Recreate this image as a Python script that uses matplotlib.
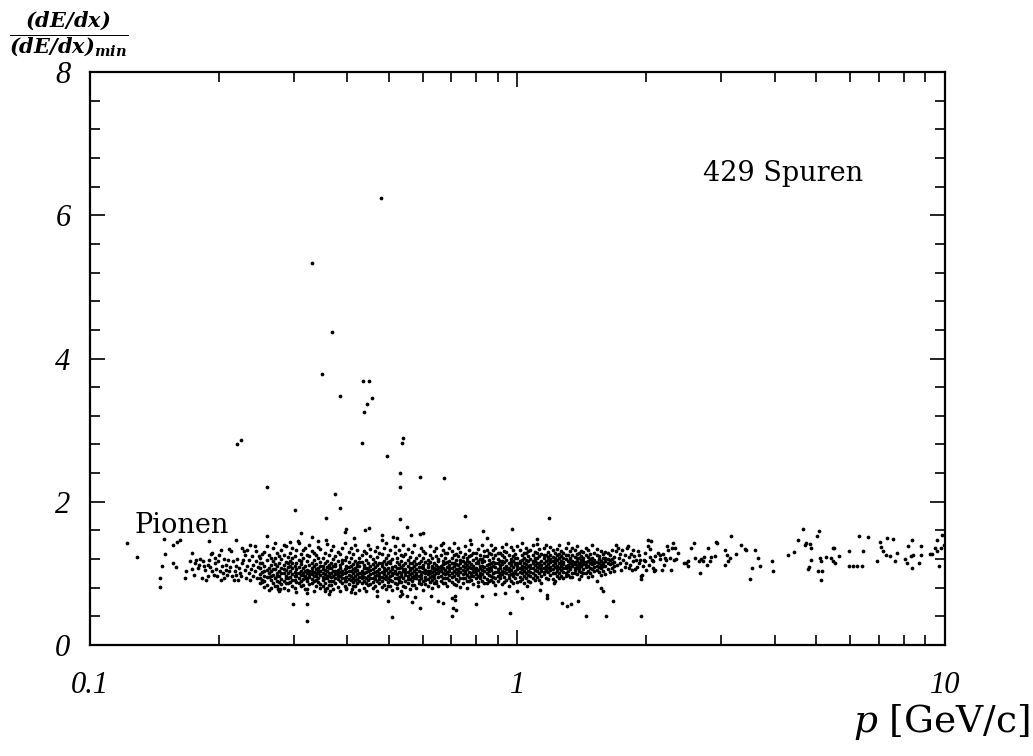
import numpy as np
import matplotlib.pyplot as plt
from matplotlib.font_manager import FontProperties
from matplotlib.ticker import FixedLocator, MultipleLocator, NullFormatter

# dE/dx measurements, normalised to minimum ionisation, versus momentum p [GeV/c]

# isolated tracks at very low momentum
low_p_tracks = [
    (0.122, 1.42), (0.129, 1.23), (0.146, 0.94), (0.146, 0.81), (0.147, 1.11),
    (0.149, 1.48), (0.150, 1.27), (0.156, 1.40), (0.160, 1.44), (0.162, 1.47),
    (0.156, 1.14), (0.159, 1.09),
]

# start of the pion band
band_left = [
    (0.167, 0.93), (0.168, 1.03), (0.171, 1.17), (0.173, 1.28), (0.173, 1.06),
    (0.175, 0.98), (0.176, 1.15), (0.177, 1.19), (0.179, 1.07), (0.180, 1.12),
    (0.181, 1.20), (0.183, 0.93), (0.184, 1.17), (0.185, 1.10), (0.186, 1.05),
    (0.187, 0.91), (0.189, 1.12), (0.189, 0.96), (0.190, 1.19), (0.191, 1.09),
    (0.192, 1.27), (0.193, 1.03), (0.193, 1.29), (0.195, 0.98), (0.196, 1.14),
    (0.196, 1.21), (0.197, 1.06), (0.198, 0.96), (0.199, 1.17), (0.200, 1.25),
    (0.201, 1.03), (0.202, 0.91), (0.203, 1.32), (0.204, 1.10), (0.205, 1.00),
    (0.206, 1.20), (0.206, 0.93), (0.208, 1.05), (0.208, 1.12), (0.209, 0.98),
    (0.210, 1.19), (0.211, 1.03), (0.212, 1.34), (0.213, 1.09), (0.214, 1.31),
    (0.215, 0.96), (0.216, 1.17), (0.217, 0.91), (0.218, 1.04), (0.219, 1.10),
    (0.220, 0.98), (0.221, 1.20), (0.222, 0.91), (0.223, 1.07), (0.224, 1.01),
    (0.226, 0.97), (0.227, 1.14), (0.227, 1.35), (0.228, 1.19), (0.229, 1.31),
    (0.230, 1.05), (0.231, 1.26), (0.232, 0.93), (0.233, 1.10), (0.233, 1.33),
    (0.235, 1.00), (0.236, 1.19), (0.237, 1.40), (0.237, 0.91), (0.238, 1.06),
    (0.239, 1.24), (0.240, 0.96), (0.241, 1.12), (0.243, 1.38), (0.243, 1.03),
    (0.244, 1.17), (0.245, 1.31), (0.246, 0.93), (0.247, 1.09), (0.248, 1.24),
]

# dense part of the band: "p: dE/dx values measured at that momentum"
band_dense = """
0.250: 1.08 0.93 1.21 0.99 1.14 0.86
0.253: 1.02 1.15 0.88 0.91 1.27
0.256: 0.97 1.11 1.30 0.90 1.04 0.81
0.259: 1.05 0.84 1.19 0.95 1.38
0.262: 0.95 1.26 1.07 1.00 0.77
0.265: 1.12 0.91 0.79 1.03 1.22 0.97
0.268: 0.98 1.17 1.35 0.87 1.06
0.271: 1.06 0.94 1.22 0.83 1.13 1.42
0.274: 0.89 1.10 1.01 1.28 0.82 0.96
0.277: 1.14 0.96 1.04 0.75 1.24 0.88
0.280: 0.92 1.20 1.08 0.85 1.33 1.00
0.284: 1.00 1.12 0.90 1.25 0.79 1.06 1.40
0.287: 1.16 0.97 0.86 1.05 1.38 0.93
0.290: 0.93 1.09 1.23 1.01 0.77 1.15 0.87
0.294: 1.18 0.88 1.03 0.95 1.29 1.10
0.297: 1.07 0.83 1.14 0.99 1.36 0.91 1.21
0.301: 0.91 1.24 1.02 1.11 0.80 0.96
0.304: 1.15 0.96 1.06 1.32 0.74 0.88 1.00
0.308: 0.87 1.00 1.19 0.94 1.09 1.42
0.311: 1.04 1.27 0.90 1.13 0.82 0.98 1.17
0.315: 0.98 0.84 1.08 1.21 1.01 0.92 1.33
0.319: 1.10 0.93 1.36 0.97 0.78 1.04
0.322: 0.89 1.05 1.17 0.78 1.00 1.26 0.94
0.326: 1.12 0.95 1.24 1.03 0.85 1.40 0.99
0.330: 0.92 1.07 0.86 1.15 0.99 1.31 1.03
0.334: 1.02 1.19 0.90 1.10 0.76 0.96 1.28
0.338: 0.96 0.82 1.06 1.26 1.13 0.91 1.00
0.342: 1.08 0.94 1.00 1.21 0.88 1.37 1.04
0.346: 1.16 0.98 1.04 0.85 1.34 0.79 1.10
0.350: 0.91 1.11 1.22 1.01 0.95 0.83 1.06
0.354: 1.05 0.87 1.14 0.99 1.28 0.93 0.75
0.358: 0.93 1.09 1.18 0.80 1.03 1.41 0.97
0.362: 1.12 0.97 1.01 1.25 0.89 1.07 0.84
0.367: 0.95 1.07 0.84 1.15 1.32 1.00 0.90
0.371: 1.03 0.90 1.20 0.96 1.11 0.78 1.38
0.375: 1.10 0.86 0.99 1.13 1.24 0.94 1.03
0.380: 0.92 1.05 1.17 0.81 1.01 1.30 0.97
0.384: 1.08 0.96 1.27 0.89 1.12 0.76 1.02
0.389: 0.99 1.14 0.87 1.04 1.35 0.93 1.19
0.394: 1.06 0.93 1.19 1.00 0.83 1.43 0.90
0.398: 0.95 1.11 1.23 0.90 1.02 0.79 1.07
0.403: 1.09 0.85 1.16 0.98 1.30 1.04 0.92
0.408: 0.91 1.04 1.21 0.96 1.10 0.74 1.36
0.412: 1.13 0.88 1.00 1.27 0.94 1.06 0.82
0.417: 0.97 1.07 0.82 1.18 1.03 1.39 0.91
0.422: 1.05 0.92 1.14 0.99 1.33 0.86 1.10
0.427: 0.89 1.10 1.22 1.01 0.95 0.77 1.16
0.432: 1.16 0.86 1.04 0.93 1.26 1.00 0.98
0.437: 1.00 1.12 0.90 1.07 0.80 1.31 0.95
0.443: 0.94 1.19 1.02 1.29 0.87 1.08 0.76
0.448: 1.08 0.97 1.15 0.91 1.03 1.40 0.84
0.453: 0.85 1.05 1.24 0.99 1.11 0.93 1.34
0.459: 1.13 0.93 1.01 1.20 0.88 0.79 1.06
0.464: 0.96 1.09 0.83 1.16 1.31 1.02 0.92
0.470: 1.04 0.90 1.23 0.98 1.12 0.75 1.37
0.475: 0.92 1.15 1.06 0.86 1.00 1.28 0.97
0.481: 1.10 0.95 1.27 1.02 0.89 0.81 1.14
0.486: 0.99 1.18 0.84 1.07 1.35 0.94 1.04
0.492: 1.05 0.92 1.13 0.97 1.21 0.78 1.42
0.498: 0.88 1.08 1.00 1.25 0.94 1.16 0.83
0.504: 1.14 0.96 1.03 0.82 1.17 1.32 0.91
0.510: 1.01 0.90 1.20 1.09 0.98 0.77 1.06
0.516: 0.93 1.11 1.29 1.04 0.87 1.00 1.38
0.522: 1.07 0.99 0.85 1.16 1.22 0.94 0.80
0.528: 0.95 1.13 1.02 0.91 1.32 1.08 0.88
0.535: 1.09 0.88 1.18 1.00 0.97 1.26 0.76
0.541: 1.03 1.24 0.94 1.12 0.83 1.06 1.40
0.547: 0.90 1.06 1.15 0.98 1.27 0.81 1.02
0.554: 1.11 0.96 1.02 0.86 1.19 1.34 0.92
0.560: 0.99 1.08 1.23 0.92 1.05 0.78 1.14
0.567: 1.14 0.89 1.01 1.30 0.95 1.07 0.84
0.574: 0.97 1.10 0.84 1.17 1.04 1.39 0.93
0.580: 1.06 0.93 1.21 1.00 1.13 0.80 0.98
0.587: 0.91 1.15 1.03 0.87 1.26 1.09 0.96
0.594: 1.09 0.98 1.18 0.94 1.36 0.85 1.02
0.601: 1.02 1.12 0.89 1.07 1.22 0.77 1.31
0.608: 0.95 1.05 1.28 1.00 0.85 1.16 0.91
0.616: 1.13 0.92 1.09 1.19 0.99 1.04 0.82
0.623: 1.00 1.16 0.88 1.04 1.25 1.38 0.95
0.630: 1.08 0.96 1.21 0.91 1.11 0.79 1.02
0.638: 0.93 1.03 1.14 0.98 1.31 1.07 0.87
0.645: 1.12 0.90 1.06 1.24 0.86 1.00 1.35
0.653: 1.01 1.17 0.95 1.09 1.20 0.83 1.05
0.661: 0.97 1.11 1.25 1.03 0.90 1.40 1.07
0.669: 1.07 0.93 1.18 1.00 1.33 0.86 1.13
0.677: 1.14 0.99 0.86 1.22 1.05 0.94 1.29
0.685: 0.94 1.09 1.28 1.02 0.82 1.16 1.00
0.693: 1.17 1.04 0.91 1.12 1.36 0.98 1.08
0.701: 1.00 1.21 0.95 1.08 0.88 1.31 1.14
0.709: 1.10 0.97 1.26 1.03 1.15 0.85 1.42
0.718: 0.92 1.13 1.01 1.19 0.84 1.06 1.27
0.726: 1.06 1.24 0.98 0.90 1.12 1.35 1.02
0.735: 1.15 1.02 0.94 1.30 1.08 0.81 1.19
0.744: 0.99 1.18 0.87 1.10 1.23 1.05 0.93
0.752: 1.04 0.93 1.14 1.27 1.01 1.38 1.09
0.761: 1.12 0.98 1.21 0.89 1.06 0.80 1.17
0.770: 0.95 1.09 1.33 1.02 1.16 0.90 1.24
0.780: 1.13 1.00 0.91 1.25 1.07 1.41 0.97
0.789: 1.02 1.19 0.96 1.11 0.85 1.29 1.06
0.798: 1.08 0.94 1.22 1.04 1.29 0.99 1.15
0.808: 0.97 1.14 1.05 0.88 1.18 1.34 0.82
0.817: 1.11 1.01 1.26 0.93 1.07 1.20 0.96
0.827: 1.05 0.90 1.16 1.20 0.99 1.39 1.10
0.837: 1.17 1.03 0.95 1.31 1.09 0.86 1.24
0.847: 0.92 1.12 1.24 1.00 0.86 1.06 1.33
0.857: 1.07 1.19 0.98 1.13 1.03 0.89 1.28
0.867: 1.14 0.96 1.27 1.05 0.91 1.40 1.09
0.877: 1.00 1.10 0.88 1.21 1.16 0.95 1.32
0.888: 1.09 1.25 1.02 0.94 1.35 1.14 0.84
0.898: 0.97 1.15 1.06 1.20 0.89 1.29 1.02
0.909: 1.12 1.01 0.93 1.28 1.08 1.18 0.98
0.920: 1.04 1.18 0.99 1.13 0.85 1.37 1.25
0.931: 1.16 0.95 1.23 1.07 1.02 0.88 1.31
0.942: 0.91 1.11 1.30 1.00 1.19 1.06 1.41
0.953: 1.08 0.98 1.14 1.26 0.94 1.03 0.82
0.964: 1.20 1.05 0.90 1.12 1.37 0.99 1.16
0.976: 1.01 1.17 1.09 0.96 1.24 1.33 0.87
0.987: 1.13 0.93 1.27 1.04 1.15 1.00 1.21
0.999: 0.99 1.10 1.21 0.88 1.06 1.38 1.14
1.011: 1.18 1.02 0.95 1.14 1.32 1.08 0.90
1.023: 1.06 1.25 1.00 0.92 1.11 1.19 1.43
1.035: 1.15 0.97 1.09 1.22 1.03 0.86 1.29
1.047: 1.00 1.13 1.28 0.94 1.19 1.07 1.36
1.060: 1.10 1.04 0.90 1.17 1.24 0.98 1.31
1.072: 0.96 1.20 1.07 1.33 1.12 1.02 0.88
1.085: 1.14 1.01 1.26 0.93 1.08 1.39 1.18
1.098: 1.05 1.18 0.98 1.12 1.22 0.91 1.30
1.111: 1.21 1.09 0.95 1.29 1.03 1.15 1.41
1.125: 1.00 1.15 1.24 1.07 0.91 1.34 1.11
1.138: 1.12 1.27 1.04 1.18 0.97 1.08 0.87
1.152: 1.08 0.99 1.21 1.14 1.35 1.02 1.26
1.165: 1.17 1.03 1.25 0.94 1.10 1.40 1.06
1.179: 1.02 1.13 1.30 1.07 1.19 0.92 1.23
1.193: 1.20 1.09 0.98 1.16 1.26 1.05 1.37
1.208: 1.06 1.23 1.12 0.92 1.01 1.32 1.17
1.222: 1.14 1.00 1.28 1.09 1.18 0.89 1.22
1.237: 1.03 1.19 1.11 0.96 1.34 1.25 1.07
1.251: 1.22 1.08 1.15 1.27 1.00 0.93 1.39
1.266: 1.10 0.97 1.24 1.05 1.17 1.31 1.13
1.281: 1.16 1.29 1.02 1.13 0.93 1.21 1.08
1.297: 1.07 1.20 1.11 1.36 1.01 1.25 0.96
1.312: 1.25 1.04 1.17 0.98 1.12 1.42 1.09
1.328: 1.09 1.22 1.31 1.06 1.14 0.95 1.19
1.344: 1.18 1.01 1.10 1.26 0.95 1.35 1.13
1.360: 1.05 1.16 1.23 1.13 1.33 1.00 1.08
1.376: 1.21 1.08 0.99 1.18 1.27 1.12 1.38
1.392: 1.12 1.28 1.04 1.15 1.07 0.92 1.22
1.409: 1.02 1.19 1.24 0.96 1.10 1.31 1.15
1.426: 1.17 1.06 1.30 1.13 1.21 1.00
1.443: 1.09 1.25 1.01 1.16 1.36 1.12
1.460: 1.23 1.11 1.04 1.32 1.18 0.95
1.477: 1.14 1.00 1.20 1.27 1.08
1.495: 1.06 1.22 1.13 0.97 1.17 1.39
1.513: 1.19 1.09 1.29 1.03 1.14
1.531: 1.11 1.26 1.16 1.05 1.34
1.549: 1.24 1.02 1.14 1.20 1.09
1.567: 1.08 1.18 1.31 1.12 0.98
1.586: 1.15 1.27 1.04 1.21 1.11
1.605: 1.10 1.22 1.17 0.99 1.30
1.624: 1.28 1.06 1.14 1.20
1.644: 1.13 1.25 1.19 1.02
1.663: 1.20 1.08 1.33 1.15
1.683: 1.16 1.23 1.11 1.04
"""

# thinning out towards high momentum
band_right = [
    (1.70, 1.40), (1.70, 1.31), (1.72, 1.35), (1.73, 1.21), (1.74, 1.14),
    (1.71, 1.12), (1.74, 1.27), (1.75, 1.05), (1.76, 1.33), (1.77, 1.19),
    (1.78, 1.09), (1.78, 1.26), (1.79, 1.15), (1.80, 1.35), (1.81, 1.38),
    (1.82, 1.23), (1.82, 1.07), (1.83, 1.12), (1.84, 1.27), (1.85, 1.05),
    (1.86, 1.17), (1.86, 1.32), (1.87, 1.24), (1.88, 1.06), (1.89, 1.19),
    (1.90, 1.09), (1.91, 1.31), (1.92, 1.14), (1.92, 1.26), (1.93, 1.19),
    (1.94, 0.92), (1.95, 0.96), (1.96, 0.98), (1.97, 1.10), (1.98, 1.19),
    (1.99, 1.29), (1.99, 1.17), (2.00, 1.05), (2.02, 1.47), (2.02, 1.38),
    (2.03, 1.12), (2.04, 1.23), (2.04, 1.34), (2.05, 1.45), (2.06, 1.19),
    (2.07, 1.07), (2.08, 1.17), (2.09, 1.03), (2.10, 1.05), (2.10, 1.24),
    (2.13, 1.29), (2.15, 1.26), (2.16, 1.20), (2.18, 1.05), (2.19, 1.27),
    (2.20, 1.12), (2.21, 1.21), (2.23, 1.19), (2.24, 1.38), (2.25, 1.32),
    (2.27, 1.21), (2.28, 1.05), (2.30, 1.35), (2.31, 1.42), (2.32, 1.19),
    (2.34, 1.35), (2.35, 1.20), (2.37, 1.29), (2.45, 1.14), (2.48, 1.14),
    (2.51, 1.17), (2.51, 1.10), (2.55, 1.35), (2.59, 1.42), (2.60, 1.21),
    (2.66, 1.18), (2.67, 1.00), (2.68, 1.20), (2.71, 1.17), (2.73, 1.23),
    (2.78, 1.12), (2.79, 1.35), (2.82, 1.18), (2.84, 1.23), (2.89, 1.24),
    (2.91, 1.44), (2.93, 1.42), (3.05, 1.33), (3.06, 1.12), (3.09, 1.26),
    (3.11, 1.17), (3.14, 1.21), (3.15, 1.52), (3.25, 1.27), (3.33, 1.40),
    (3.40, 1.34), (3.43, 1.32), (3.49, 0.92), (3.54, 1.07), (3.59, 1.32),
    (3.66, 1.21), (3.69, 1.10), (3.94, 1.17), (3.97, 1.04), (4.30, 1.25),
    (4.44, 1.30), (4.52, 1.46), (4.65, 1.62), (4.70, 1.40), (4.72, 1.42),
    (4.83, 1.41), (4.85, 1.19), (4.87, 1.35), (4.80, 1.09), (4.78, 1.06),
    (5.03, 1.52), (5.08, 1.59), (5.05, 1.04), (5.10, 1.21), (5.13, 1.17),
    (5.16, 1.04), (5.14, 0.91), (5.27, 1.23), (5.40, 1.21), (5.46, 1.35),
    (5.51, 1.35), (5.48, 1.17), (5.53, 1.14), (5.66, 1.24), (5.95, 1.10),
    (5.96, 1.31), (6.08, 1.11), (6.21, 1.11), (6.29, 1.52), (6.38, 1.11),
    (6.42, 1.31), (6.59, 1.51), (6.92, 1.18), (7.04, 1.44), (7.10, 1.37),
    (7.17, 1.31), (7.27, 1.26), (7.30, 1.49), (7.43, 1.24), (7.57, 1.48),
    (7.65, 1.18), (7.74, 1.28), (8.06, 1.20), (8.13, 1.15), (8.20, 1.38),
    (8.35, 1.47), (8.31, 1.24), (8.35, 1.07), (8.43, 1.26), (8.71, 1.15),
    (8.77, 1.38), (8.79, 1.26), (9.22, 1.27), (9.30, 1.27), (9.47, 1.35),
    (9.59, 1.47), (9.56, 1.31), (9.70, 1.10), (9.81, 1.35), (9.83, 1.54),
    (9.94, 1.40),
]

# tracks above the band (heavier particles / overlaps)
high_tracks = [
    (0.479, 6.24), (0.331, 5.34), (0.368, 4.37), (0.349, 3.78), (0.434, 3.68),
    (0.450, 3.68), (0.385, 3.47), (0.456, 3.45), (0.445, 3.36), (0.437, 3.26),
    (0.221, 2.81), (0.226, 2.86), (0.432, 2.82), (0.541, 2.89), (0.536, 2.82),
    (0.496, 2.64), (0.531, 2.40), (0.590, 2.35), (0.674, 2.33), (0.259, 2.21),
    (0.374, 2.11), (0.531, 2.20), (0.384, 1.92), (0.302, 1.89), (0.356, 1.77),
    (0.531, 1.76), (0.552, 1.65), (0.260, 1.52), (0.398, 1.62), (0.394, 1.58),
    (0.439, 1.61), (0.449, 1.63), (0.312, 1.56), (0.481, 1.54), (0.481, 1.47),
    (0.565, 1.54), (0.590, 1.55), (0.602, 1.57), (0.511, 1.51), (0.523, 1.49),
    (0.293, 1.44), (0.306, 1.45), (0.330, 1.51), (0.342, 1.45), (0.357, 1.47),
    (0.415, 1.49), (0.754, 1.80), (1.187, 1.77), (0.829, 1.59), (0.972, 1.62),
    (0.774, 1.47), (1.112, 1.48), (0.847, 1.49), (0.671, 1.43), (0.190, 1.45),
    (0.220, 1.46),
]

# tracks below the band
low_tracks = [
    (0.321, 0.34), (0.509, 0.39), (0.299, 0.57), (0.321, 0.57), (0.322, 0.72),
    (0.498, 0.61), (0.593, 0.51), (0.568, 0.60), (0.576, 0.67), (0.469, 0.68),
    (0.531, 0.68), (0.538, 0.71), (0.553, 0.68), (0.629, 0.68), (0.650, 0.62),
    (0.275, 0.78), (0.278, 0.78), (0.363, 0.71), (0.365, 0.76), (0.398, 0.78),
    (0.410, 0.78), (0.416, 0.72), (0.354, 0.78), (0.243, 0.62), (0.701, 0.40),
    (0.960, 0.45), (1.443, 0.40), (1.610, 0.41), (0.671, 0.59), (0.703, 0.65),
    (0.716, 0.68), (0.716, 0.63), (0.707, 0.51), (0.717, 0.49), (0.799, 0.57),
    (0.827, 0.68), (0.886, 0.71), (0.934, 0.72), (0.995, 0.75), (1.026, 0.65),
    (1.170, 0.70), (1.173, 0.65), (1.219, 0.86), (1.270, 0.58), (1.306, 0.54),
    (1.333, 0.57), (1.387, 0.61), (1.564, 0.79), (1.587, 0.76), (1.675, 0.62),
    (1.531, 0.89), (1.054, 0.83), (1.129, 0.77), (1.94, 0.41),
]

x_major = [0.1, 1, 10]
x_major_labels = ["0.1", "1", "10"]
x_minor = [0.2, 0.3, 0.4, 0.5, 0.6, 0.7, 0.8, 0.9, 2, 3, 4, 5, 6, 7, 8, 9]
y_major = [0, 2, 4, 6, 8]
y_major_labels = ["0", "2", "4", "6", "8"]


def parse_strips(text):
    p, y = [], []
    for line in text.strip().splitlines():
        key, vals = line.split(":")
        for v in vals.split():
            p.append(float(key))
            y.append(float(v))
    return p, y


p_dense, y_dense = parse_strips(band_dense)
pairs = low_p_tracks + band_left + band_right + high_tracks + low_tracks
p_all = np.array([a for a, _ in pairs] + p_dense)
y_all = np.array([b for _, b in pairs] + y_dense)

plt.rcParams["mathtext.fontset"] = "custom"
plt.rcParams["mathtext.rm"] = "DejaVu Serif"
plt.rcParams["mathtext.it"] = "DejaVu Serif:italic"
plt.rcParams["mathtext.bf"] = "DejaVu Serif:italic:bold"
plt.rcParams["font.family"] = "DejaVu Serif"

tick_font = FontProperties(family="Liberation Serif", style="italic", size=22)

fig = plt.figure(figsize=(10.33, 7.56), dpi=100)
ax = fig.add_axes([0.0871, 0.1468, 0.8277, 0.7579])

ax.plot(p_all, y_all, "o", ms=2.7, mew=0, color="black")

ax.set_xscale("log")
ax.set_xlim(0.1, 10)
ax.set_ylim(0, 8)

ax.set_xticks(x_major, x_major_labels, fontproperties=tick_font)
ax.xaxis.set_minor_locator(FixedLocator(x_minor))
ax.xaxis.set_minor_formatter(NullFormatter())
ax.set_yticks(y_major, y_major_labels, fontproperties=tick_font)
ax.yaxis.set_minor_locator(MultipleLocator(0.4))

ax.tick_params(which="both", direction="in", top=True, right=True, width=1.2)
ax.tick_params(which="major", length=11)
ax.tick_params(which="minor", length=7)
ax.tick_params(axis="x", which="major", pad=19)
ax.tick_params(axis="y", which="major", pad=14)

for side in ax.spines.values():
    side.set_linewidth(1.6)

ax.text(0.0523, 0.196, "Pionen", transform=ax.transAxes,
        fontsize=19.5, va="baseline", ha="left")
ax.text(0.717, 0.810, "429 Spuren", transform=ax.transAxes,
        fontsize=19.5, va="baseline", ha="left")

fig.text(0.066, 0.955,
         r"$\dfrac{\mathbf{(dE/dx)}}{\mathbf{(dE/dx)}_{\mathbf{min}}}$",
         ha="center", va="center", fontsize=15)
fig.text(0.997, 0.045, r"$p$ [GeV/c]", ha="right", va="center", fontsize=27)

fig.savefig("out.png", dpi=100)
